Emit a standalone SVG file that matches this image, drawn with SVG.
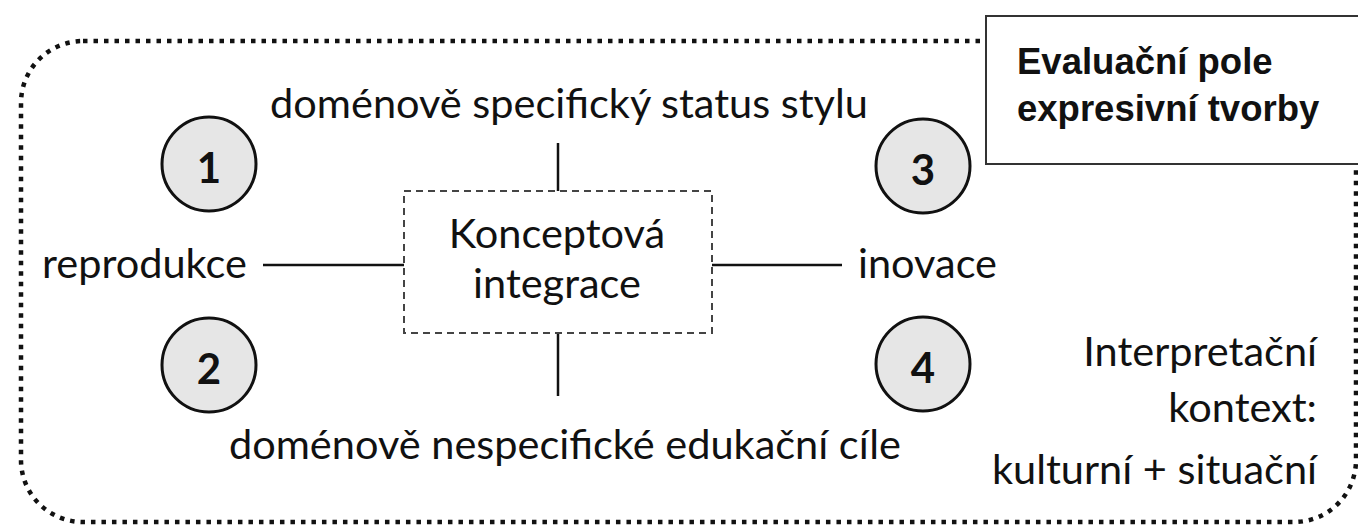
<svg xmlns="http://www.w3.org/2000/svg" width="1358" height="525" viewBox="0 0 1358 525">
<style>
.t{font-family:Lato,"Open Sans","DejaVu Sans",sans-serif;font-size:41.5px;fill:#111}
.num{font-family:Lato,"Open Sans","DejaVu Sans",sans-serif;font-size:42px;font-weight:bold;fill:#111;text-anchor:middle}
.c{fill:#e6e6e6;stroke:#111;stroke-width:3}
.ln{stroke:#111;stroke-width:2.5;fill:none}
.title{font-family:"Liberation Sans",Arial,sans-serif;font-size:36.5px;font-weight:bold;fill:#111}
</style>
<rect id="frame" x="21" y="41" width="1335" height="481" rx="62" ry="62" fill="none" stroke="#111" stroke-width="4.5" stroke-dasharray="4.5 6"/>
<g id="connectors">
<line class="ln" x1="558" y1="143" x2="558" y2="191"/>
<line class="ln" x1="558" y1="333" x2="558" y2="396"/>
<line class="ln" x1="263" y1="265" x2="404" y2="265"/>
<line class="ln" x1="712" y1="265" x2="842" y2="265"/>
</g>
<g id="center">
<rect x="404" y="191" width="308" height="142" fill="#fff" stroke="#444" stroke-width="2" stroke-dasharray="7 5"/>
<text class="t" x="557" y="248" text-anchor="middle">Konceptová</text>
<text class="t" x="557" y="298" text-anchor="middle">integrace</text>
</g>
<g id="top-label"><text class="t" x="569" y="118" text-anchor="middle">doménově specifický status stylu</text></g>
<g id="bottom-label"><text class="t" x="565" y="459" text-anchor="middle">doménově nespecifické edukační cíle</text></g>
<g id="left-label"><text class="t" x="42" y="278">reprodukce</text></g>
<g id="right-label"><text class="t" x="858" y="278">inovace</text></g>
<g id="n1"><circle class="c" cx="209" cy="164" r="47"/><text class="num" x="209" y="183">1</text></g>
<g id="n2"><circle class="c" cx="209" cy="365" r="47"/><text class="num" x="209" y="384">2</text></g>
<g id="n3"><circle class="c" cx="923" cy="166" r="47"/><text class="num" x="923" y="185">3</text></g>
<g id="n4"><circle class="c" cx="923" cy="364" r="47"/><text class="num" x="923" y="383">4</text></g>
<g id="context">
<text class="t" x="1317" y="366" text-anchor="end">Interpretační</text>
<text class="t" x="1317" y="422" text-anchor="end">kontext:</text>
<text class="t" x="1317" y="484" text-anchor="end">kulturní + situační</text>
</g>
<g id="title">
<rect x="986" y="16" width="380" height="148" fill="#fff" stroke="#333" stroke-width="2"/>
<text class="title" x="1017" y="74">Evaluační pole</text>
<text class="title" x="1017" y="121">expresivní tvorby</text>
</g>
</svg>
